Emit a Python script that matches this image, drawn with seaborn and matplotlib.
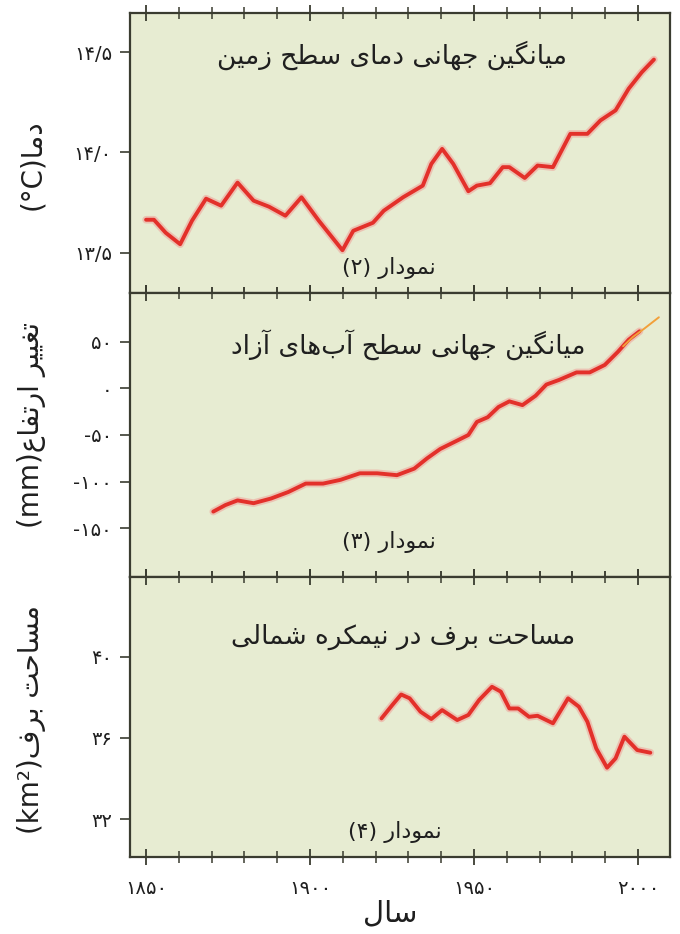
import matplotlib
matplotlib.use('Agg')
import matplotlib.pyplot as plt
import matplotlib.patheffects as pe
import seaborn as sns

#%% Data
temp_years = [1850, 1852.4, 1856, 1860.4, 1864, 1868.3, 1872.9, 1877.9, 1882.8, 1887.5,
              1892.5, 1897.4, 1902.7, 1909.9, 1913.2, 1919.2, 1922.5, 1928.4, 1934.4,
              1937, 1940.3, 1943.7, 1948.3, 1950.9, 1954.9, 1958.8, 1960.8, 1965.5,
              1969.4, 1974.1, 1979.4, 1984.6, 1988.6, 1993.2, 1997.2, 2001.2, 2004.9]
temp_vals = [13.665, 13.665, 13.6, 13.543, 13.66, 13.77, 13.735, 13.85, 13.76, 13.73,
             13.685, 13.777, 13.66, 13.513, 13.61, 13.65, 13.71, 13.777, 13.835,
             13.943, 14.018, 13.943, 13.807, 13.835, 13.847, 13.927, 13.927, 13.873,
             13.935, 13.927, 14.093, 14.093, 14.16, 14.21, 14.318, 14.40, 14.463]

sea_years = [1870.5, 1874.2, 1877.9, 1882.8, 1888.1, 1893.4, 1898.7, 1904.0, 1909.3,
             1915.2, 1920.5, 1926.5, 1931.8, 1935.7, 1939.7, 1944.3, 1948.3, 1950.9,
             1954.2, 1957.5, 1960.8, 1964.8, 1968.8, 1972.1, 1976.0, 1981.3, 1985.3,
             1989.9, 1993.9, 1997.2, 2000.5]
sea_vals = [-132, -125, -120, -123, -118, -111, -102, -102, -98, -91, -91, -93, -86,
            -75, -65, -57, -50, -36, -31, -20, -14, -18, -8, 4, 9, 17, 17, 25, 39, 52, 61]
sea_recent_years = [1995.5, 1998.5, 2002, 2006.4]
sea_recent_vals = [45, 55, 64, 76]

snow_years = [1921.8, 1925.1, 1927.8, 1930.4, 1933.7, 1937.0, 1940.3, 1944.9, 1948.3,
              1951.6, 1955.5, 1958.2, 1960.8, 1963.5, 1966.8, 1969.4, 1974.1, 1978.7,
              1982.0, 1984.6, 1987.3, 1990.6, 1993.2, 1995.9, 1999.8, 2003.8]
snow_vals = [36.96, 37.62, 38.14, 37.95, 37.29, 36.93, 37.37, 36.88, 37.13, 37.87,
             38.52, 38.28, 37.45, 37.45, 37.04, 37.09, 36.72, 37.95, 37.54, 36.80,
             35.48, 34.53, 34.99, 36.06, 35.40, 35.27]

temp_ticks = [13.5, 14.0, 14.5]
temp_ticklabels = ['۱۳/۵', '۱۴/۰', '۱۴/۵']
sea_ticks = [-150, -100, -50, 0, 50]
sea_ticklabels = ['-۱۵۰', '-۱۰۰', '-۵۰', '۰', '۵۰']
snow_ticks = [32, 36, 40]
snow_ticklabels = ['۳۲', '۳۶', '۴۰']
year_ticks = [1850, 1900, 1950, 2000]
year_ticklabels = ['۱۸۵۰', '۱۹۰۰', '۱۹۵۰', '۲۰۰۰']

#%% Persian shaping (matplotlib has no text shaping of its own)
FORMS = {
    'ا': ('\uFE8D', '\uFE8E', None, None),
    'آ': ('\uFE81', '\uFE82', None, None),
    'ب': ('\uFE8F', '\uFE90', '\uFE91', '\uFE92'),
    'ت': ('\uFE95', '\uFE96', '\uFE97', '\uFE98'),
    'ج': ('\uFE9D', '\uFE9E', '\uFE9F', '\uFEA0'),
    'ح': ('\uFEA1', '\uFEA2', '\uFEA3', '\uFEA4'),
    'د': ('\uFEA9', '\uFEAA', None, None),
    'ر': ('\uFEAD', '\uFEAE', None, None),
    'ز': ('\uFEAF', '\uFEB0', None, None),
    'س': ('\uFEB1', '\uFEB2', '\uFEB3', '\uFEB4'),
    'ش': ('\uFEB5', '\uFEB6', '\uFEB7', '\uFEB8'),
    'ط': ('\uFEC1', '\uFEC2', '\uFEC3', '\uFEC4'),
    'ع': ('\uFEC9', '\uFECA', '\uFECB', '\uFECC'),
    'غ': ('\uFECD', '\uFECE', '\uFECF', '\uFED0'),
    'ف': ('\uFED1', '\uFED2', '\uFED3', '\uFED4'),
    '\u06A9': ('\uFB8E', '\uFB8F', '\uFEDB', '\uFEDC'),
    '\u0643': ('\uFB8E', '\uFB8F', '\uFEDB', '\uFEDC'),
    'گ': ('\uFB92', '\uFB93', '\uFB94', '\uFB95'),
    'ل': ('\uFEDD', '\uFEDE', '\uFEDF', '\uFEE0'),
    'م': ('\uFEE1', '\uFEE2', '\uFEE3', '\uFEE4'),
    'ن': ('\uFEE5', '\uFEE6', '\uFEE7', '\uFEE8'),
    'ه': ('\uFEE9', '\uFEEA', '\uFEEB', '\uFEEC'),
    'و': ('\uFEED', '\uFEEE', None, None),
    '\u06CC': ('\uFEEF', '\uFEF0', '\uFEF3', '\uFEF4'),
    '\u064A': ('\uFEEF', '\uFEF0', '\uFEF3', '\uFEF4'),
}

def fa(text):
    out = []
    for i, ch in enumerate(text):
        if ch not in FORMS:
            out.append(ch)
            continue
        prev = text[i - 1] if i > 0 else ''
        nxt = text[i + 1] if i + 1 < len(text) else ''
        join_prev = prev in FORMS and FORMS[prev][2] is not None
        join_next = FORMS[ch][2] is not None and nxt in FORMS
        iso, fin, ini, med = FORMS[ch]
        if join_prev and join_next:
            out.append(med)
        elif join_prev:
            out.append(fin)
        elif join_next:
            out.append(ini)
        else:
            out.append(iso)
    return ''.join(out).replace('\u200c', '')[::-1]

#%% Styling
sns.set_theme(style='ticks')
plt.rcParams['font.family'] = ['DejaVu Sans']

BG = '#e7ecd2'
SPINE = '#3a3c30'
RED = '#e3302a'
TXT = '#1f1f1f'

fig = plt.figure(figsize=(6.8, 9.34), dpi=100)
gs = fig.add_gridspec(3, 1, left=130/680, right=670/680, top=1-13/934,
                      bottom=1-857/934, hspace=0, height_ratios=[280, 284, 280])
axes = [fig.add_subplot(gs[i]) for i in range(3)]

glow = [pe.Stroke(linewidth=5.5, foreground='#f09a94', alpha=0.5), pe.Normal()]
line_kw = dict(color=RED, linewidth=2.8, path_effects=glow, sort=False,
               solid_joinstyle='round', solid_capstyle='round')

sns.lineplot(x=temp_years, y=temp_vals, ax=axes[0], **line_kw)
sns.lineplot(x=sea_years, y=sea_vals, ax=axes[1], **line_kw)
sns.lineplot(x=sea_recent_years, y=sea_recent_vals, ax=axes[1], color='#f2a03a',
             linewidth=1.4, sort=False)
sns.lineplot(x=snow_years, y=snow_vals, ax=axes[2], **line_kw)

limits = [(13.3, 14.695), (-202, 102), (30.13, 43.93)]
yticks = [(temp_ticks, temp_ticklabels), (sea_ticks, sea_ticklabels),
          (snow_ticks, snow_ticklabels)]
for ax, lim, (tk, tl) in zip(axes, limits, yticks):
    ax.set_facecolor(BG)
    ax.set_xlim(1845.1, 2009.8)
    ax.set_ylim(*lim)
    ax.set_yticks(tk)
    ax.set_yticklabels(tl, fontsize=14, color=TXT)
    ax.set_xticks(year_ticks)
    ax.set_xticks(list(range(1860, 2000, 10)), minor=True)
    ax.set_xticklabels(year_ticklabels, fontsize=14, color=TXT)
    for s in ax.spines.values():
        s.set_color(SPINE)
        s.set_linewidth(1.6)
    ax.tick_params(axis='x', which='major', direction='inout', length=12, width=1.3,
                   top=True, bottom=True, color=SPINE, pad=10)
    ax.tick_params(axis='x', which='minor', direction='inout', length=9, width=1.1,
                   top=True, bottom=True, color=SPINE)
    ax.tick_params(axis='y', direction='out', length=7, width=1.2, color=SPINE, pad=6)
    ax.set_xlabel('')
    ax.set_ylabel('')
    ax.grid(False)

for ax in axes[:2]:
    ax.tick_params(axis='x', which='both', labelbottom=False)

# Panel titles and captions
titles = [fa('میانگین جهانی دمای سطح زمین'),
          fa('میانگین جهانی سطح آب\u200cهای آزاد'),
          fa('مساحت برف در نیمکره شمالی')]
title_pos = [(0.485, 0.85), (0.515, 0.817), (0.505, 0.786)]
captions = ['(۲) ' + fa('نمودار'), '(۳) ' + fa('نمودار'), '(۴) ' + fa('نمودار')]
caption_pos = [(0.48, 0.09), (0.48, 0.124), (0.49, 0.09)]
for ax, t, tp, c, cp in zip(axes, titles, title_pos, captions, caption_pos):
    ax.text(*tp, t, transform=ax.transAxes, ha='center', va='center', fontsize=19,
            color=TXT)
    ax.text(*cp, c, transform=ax.transAxes, ha='center', va='center', fontsize=16,
            color=TXT)

# Axis labels
ylabels = ['(°C)' + fa('دما'), '(mm)' + fa('تغییر ارتفاع'), '(km²)' + fa('مساحت برف')]
ylabel_y = [165, 425, 720]
for lab, yy in zip(ylabels, ylabel_y):
    fig.text(32/680, 1 - yy/934, lab, rotation=90, ha='center', va='center',
             fontsize=20, color=TXT)
fig.text(390/680, 1 - 913/934, fa('سال'), ha='center', va='center', fontsize=21,
         color=TXT)

fig.savefig('out.png', dpi=100, facecolor='white')
